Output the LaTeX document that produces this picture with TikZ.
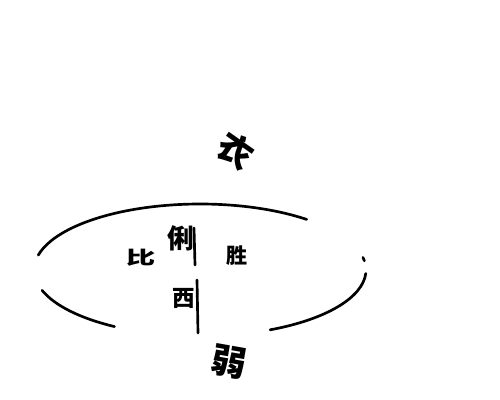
\documentclass[tikz,border=0pt]{standalone}
\usepackage{fontspec}
\newfontfamily\cjk{Noto Sans CJK SC}
\begin{document}
\begin{tikzpicture}[x=0.5mm,y=-0.5mm,
  stroke/.style={line width=3.8pt,line cap=round},
  lab/.style={font=\cjk\bfseries\fontsize{#1}{#1}\selectfont,inner sep=0pt}]
\useasboundingbox (0,0) rectangle (500,400);
% ellipse pieces, centre (200,270), rx 166, ry 66
\coordinate (c) at (200,270);
\draw[stroke] ([shift={(50:166 and -66)}]c) arc[start angle=50,end angle=167,x radius=166,y radius=-66];
\draw[stroke] ([shift={(198:166 and -66)}]c) arc[start angle=198,end angle=239,x radius=166,y radius=-66];
\draw[stroke] ([shift={(295:166 and -66)}]c) arc[start angle=295,end angle=357,x radius=166,y radius=-66];
\draw[stroke] ([shift={(8:166 and -66)}]c) arc[start angle=8,end angle=11,x radius=166,y radius=-66];
% vertical axis
\coordinate (a1) at (194,228); \coordinate (a2) at (195,265);
\coordinate (b1) at (197,280); \coordinate (b2) at (198,333);
\draw[stroke] (a1) -- (a2);
\draw[stroke] (b1) -- (b2);
% labels
\node[lab=50pt,rotate=-35] (top) at (236,150) {衣};
\node[lab=38pt] (up) at (181,238) {俐};
\node[lab=26pt,xscale=1.6] (left) at (141,258) {比};
\node[lab=30pt] (right) at (237,256) {胜};
\node[lab=32pt] (low) at (184,298) {西};
\node[lab=50pt,rotate=-10] (bot) at (229,362) {弱};
\end{tikzpicture}
\end{document}
